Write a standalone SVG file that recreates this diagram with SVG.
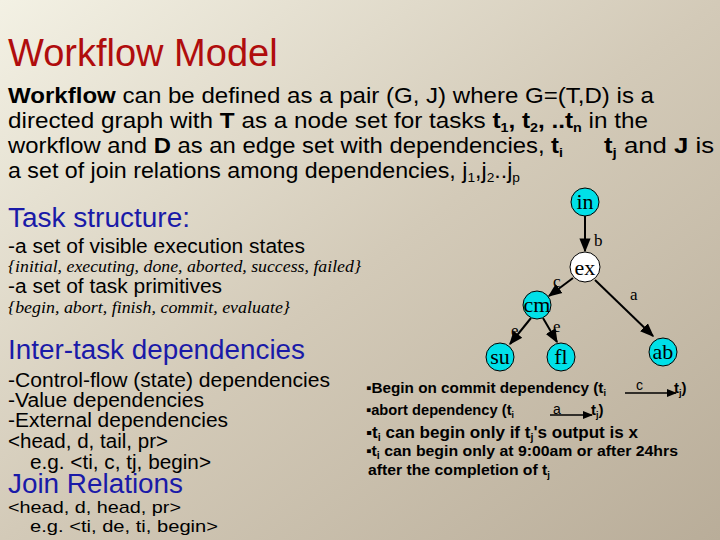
<svg xmlns="http://www.w3.org/2000/svg" width="720" height="540" viewBox="0 0 720 540">
<defs>
<linearGradient id="bg" x1="0" y1="0" x2="1" y2="1">
<stop offset="0" stop-color="#f3f1e4"/><stop offset="0.5" stop-color="#d3cab8"/><stop offset="1" stop-color="#b9ad99"/>
</linearGradient>
<marker id="ar" viewBox="0 0 10 10" refX="9" refY="5" markerWidth="7" markerHeight="7" orient="auto"><path d="M0,1 L10,5 L0,9 z" fill="#000"/></marker>
<style>
.s{font-family:"Liberation Sans",Arial,sans-serif;fill:#000}
.h{font-family:"Liberation Sans",Arial,sans-serif;fill:#1a1aa8;font-size:27px}
.b{font-size:20px}
.i{font-family:"Liberation Serif","Times New Roman",serif;font-style:italic;font-size:17px}
.n{fill:#00e0e8;stroke:#000;stroke-width:1}
.nt{font-family:"Liberation Serif","Times New Roman",serif;font-size:22px;text-anchor:middle}
.el{font-family:"Liberation Serif","Times New Roman",serif;font-size:17px}
.e{stroke:#000;stroke-width:2;marker-end:url(#ar)}
.r{font-family:"Liberation Sans",Arial,sans-serif;font-weight:bold;font-size:15px}
</style>
</defs>
<rect width="720" height="540" fill="url(#bg)"/>
<text x="8" y="66" class="s" style="font-size:38px;fill:#b00d0d">Workflow Model</text>
<g class="s" style="font-size:22px">
<text x="8" y="103" textLength="646" lengthAdjust="spacingAndGlyphs"><tspan font-weight="bold">Workflow</tspan> can be defined as a pair (G, J) where G=(T,D) is a</text>
<text x="8" y="128" textLength="640" lengthAdjust="spacingAndGlyphs">directed graph with <tspan font-weight="bold">T</tspan>  as a node set for tasks <tspan font-weight="bold">t<tspan font-size="13" dy="4">1</tspan><tspan dy="-4">, t</tspan><tspan font-size="13" dy="4">2</tspan><tspan dy="-4">, ..t</tspan><tspan font-size="13" dy="4">n</tspan></tspan><tspan dy="-4"> in the</tspan></text>
<text x="8" y="153" textLength="555" lengthAdjust="spacingAndGlyphs">workflow and <tspan font-weight="bold">D</tspan> as an edge set with dependencies, <tspan font-weight="bold">t<tspan font-size="13" dy="4">i</tspan></tspan></text>
<text x="604" y="153" font-weight="bold" textLength="110" lengthAdjust="spacingAndGlyphs">t<tspan font-size="13" dy="4">j</tspan><tspan dy="-4" font-weight="normal"> and </tspan><tspan dy="0">J</tspan><tspan font-weight="normal"> is</tspan></text>
<text x="8" y="178" textLength="512" lengthAdjust="spacingAndGlyphs">a set of join relations among dependencies, j<tspan font-size="13" dy="4">1</tspan><tspan dy="-4">,j</tspan><tspan font-size="13" dy="4">2</tspan><tspan dy="-4">..j</tspan><tspan font-size="13" dy="4">p</tspan></text>
</g>
<text x="8" y="227" class="h" textLength="182" lengthAdjust="spacingAndGlyphs">Task structure:</text>
<text x="8" y="253" class="s b" textLength="297" lengthAdjust="spacingAndGlyphs">-a set of visible execution states</text>
<text x="8" y="272" class="i" textLength="353" lengthAdjust="spacingAndGlyphs">{initial, executing, done, aborted, success, failed}</text>
<text x="8" y="293" class="s b" textLength="214" lengthAdjust="spacingAndGlyphs">-a set of task primitives</text>
<text x="8" y="313" class="i" textLength="282" lengthAdjust="spacingAndGlyphs">{begin, abort, finish, commit, evaluate}</text>
<text x="8" y="359" class="h" textLength="297" lengthAdjust="spacingAndGlyphs">Inter-task dependencies</text>
<g class="s b">
<text x="8" y="387" textLength="322" lengthAdjust="spacingAndGlyphs">-Control-flow (state) dependencies</text>
<text x="8" y="407" textLength="196" lengthAdjust="spacingAndGlyphs">-Value dependencies</text>
<text x="8" y="427" textLength="220" lengthAdjust="spacingAndGlyphs">-External dependencies</text>
<text x="8" y="448" textLength="160" lengthAdjust="spacingAndGlyphs">&lt;head, d, tail, pr&gt;</text>
<text x="30" y="469" textLength="181" lengthAdjust="spacingAndGlyphs">e.g. &lt;ti, c, tj, begin&gt;</text>
<text x="8" y="513" style="font-size:17px" textLength="173" lengthAdjust="spacingAndGlyphs">&lt;head, d, head, pr&gt;</text>
<text x="30" y="532" style="font-size:17px" textLength="188" lengthAdjust="spacingAndGlyphs">e.g. &lt;ti, de, ti, begin&gt;</text>
</g>
<text x="8" y="493" class="h" textLength="175" lengthAdjust="spacingAndGlyphs">Join Relations</text>
<g id="connectors">
<line x1="585" y1="216" x2="585" y2="251" class="e"/>
<line x1="573" y1="278" x2="549" y2="296" class="e"/>
<line x1="595" y1="280" x2="653" y2="336" class="e"/>
<line x1="531" y1="318" x2="510" y2="344" class="e"/>
<line x1="543" y1="318" x2="557" y2="342" class="e"/>
<text x="594" y="246" class="el">b</text>
<text x="553" y="287" class="el">c</text>
<text x="630" y="300" class="el">a</text>
<text x="511" y="336" class="el">e</text>
<text x="553" y="332" class="el">e</text>
</g>
<g id="n-in"><circle cx="585" cy="202" r="14" class="n"/><text x="585" y="209" class="nt">in</text></g>
<g id="n-ex"><circle cx="585" cy="267" r="15" fill="#fff" stroke="#000"/><text x="585" y="275" class="nt">ex</text></g>
<g id="n-cm"><circle cx="537" cy="305" r="14" class="n"/><text x="537" y="312" class="nt">cm</text></g>
<g id="n-su"><circle cx="500" cy="357" r="14" class="n"/><text x="500" y="364" class="nt">su</text></g>
<g id="n-fl"><circle cx="561" cy="357" r="14" class="n"/><text x="561" y="364" class="nt">fl</text></g>
<g id="n-ab"><circle cx="663" cy="352" r="14" class="n"/><text x="663" y="359" class="nt">ab</text></g>
<g class="r">
<text x="366" y="393" textLength="240" lengthAdjust="spacingAndGlyphs">▪Begin on commit dependency (t<tspan font-size="9" dy="3">i</tspan></text>
<text x="636" y="390" font-weight="normal" font-size="14">c</text>
<text x="674" y="393">t<tspan font-size="9" dy="3">j</tspan><tspan dy="-3">)</tspan></text>
<text x="366" y="415" textLength="148" lengthAdjust="spacingAndGlyphs">▪abort dependency (t<tspan font-size="9" dy="3">i</tspan></text>
<text x="553" y="414" font-weight="normal" font-size="14">a</text>
<text x="591" y="415">t<tspan font-size="9" dy="3">j</tspan><tspan dy="-3">)</tspan></text>
<text x="366" y="438" font-size="16" textLength="272" lengthAdjust="spacingAndGlyphs">▪t<tspan font-size="10" dy="3">i</tspan><tspan dy="-3"> can begin only if t</tspan><tspan font-size="10" dy="3">j</tspan><tspan dy="-3">'s output is x</tspan></text>
<text x="366" y="456" font-size="15" textLength="312" lengthAdjust="spacingAndGlyphs">▪t<tspan font-size="10" dy="3">i</tspan><tspan dy="-3"> can begin only  at 9:00am or after 24hrs</tspan></text>
<text x="368" y="475" textLength="182" lengthAdjust="spacingAndGlyphs">after the  completion of t<tspan font-size="9" dy="3">j</tspan></text>
</g>
<line x1="625" y1="393" x2="676" y2="393" stroke="#000" stroke-width="1.5" marker-end="url(#ar)"/>
<line x1="550" y1="415" x2="592" y2="415" stroke="#000" stroke-width="1.5" marker-end="url(#ar)"/>
</svg>
